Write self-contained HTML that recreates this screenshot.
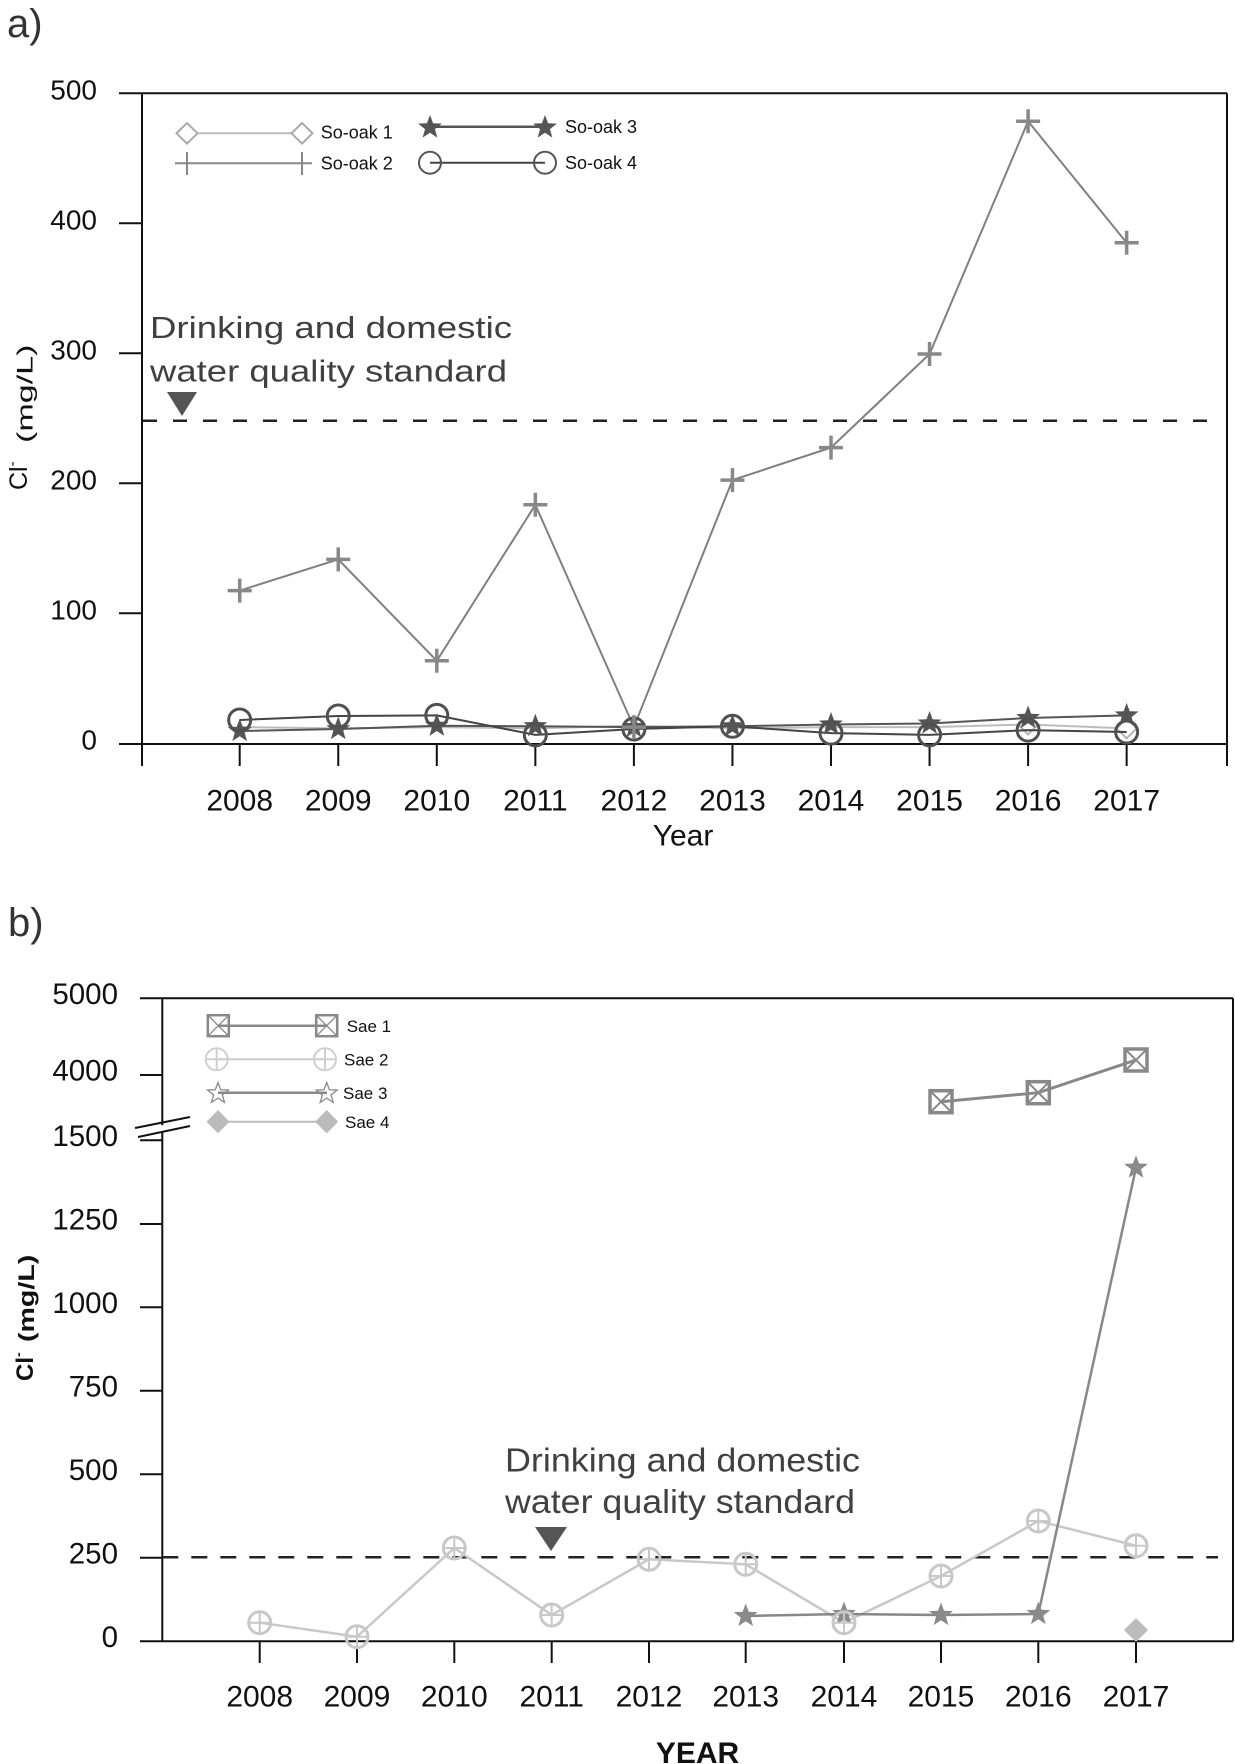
<!DOCTYPE html>
<html>
<head>
<meta charset="utf-8">
<style>
html,body{margin:0;padding:0;background:#fff;}
svg{display:block;}
text{font-family:"Liberation Sans",Arial,sans-serif;}
</style>
</head>
<body>
<svg width="1235" height="1764" viewBox="0 0 1235 1764" xmlns="http://www.w3.org/2000/svg">
<defs>
  <polygon id="star" points="0,-12.5 3.06,-4.21 11.89,-3.86 4.95,1.61 7.35,10.11 0,5.2 -7.35,10.11 -4.95,1.61 -11.89,-3.86 -3.06,-4.21"/>
  <polygon id="starS" points="0,-11 2.70,-3.72 10.46,-3.40 4.37,1.42 6.47,8.90 0,4.6 -6.47,8.90 -4.37,1.42 -10.46,-3.40 -2.70,-3.72"/>
  <path id="plus" d="M-12,0H12M0,-12V12" fill="none"/>
  <g id="cp" fill="none"><circle r="11"/><path d="M-11,0H11M0,-11V11" stroke-width="2"/></g>
  <g id="sx" fill="none"><rect x="-11" y="-11" width="22" height="22" stroke-width="3.5"/><path d="M-11,-11L11,11M11,-11L-11,11" stroke-width="2"/></g>
  <g id="sxl" fill="none"><rect x="-10.5" y="-10.5" width="21" height="21" stroke-width="2.5"/><path d="M-10.5,-10.5L10.5,10.5M10.5,-10.5L-10.5,10.5" stroke-width="1.3"/></g>
</defs>

<!-- ================= CHART A ================= -->
<text x="7" y="37" font-size="40" fill="#333">a)</text>

<g stroke="#111" stroke-width="2" fill="none">
  <path d="M119,93.3H1227M142,93.3V766M119,744H1227M1227,93.3V766"/>
  <path d="M119,223.3H142M119,353.3H142M119,483.3H142M119,613.3H142"/>
  <path d="M239.7,744V766M338.25,744V766M436.8,744V766M535.35,744V766M633.9,744V766M732.45,744V766M831,744V766M929.55,744V766M1028.1,744V766M1126.65,744V766"/>
</g>

<g font-size="28" fill="#111" text-anchor="end">
  <text x="97" y="99.5">500</text>
  <text x="97" y="229.5">400</text>
  <text x="97" y="359.5">300</text>
  <text x="97" y="489.5">200</text>
  <text x="97" y="619.5">100</text>
  <text x="97" y="749.5">0</text>
</g>
<g font-size="30" fill="#111" text-anchor="middle">
  <text x="239.7" y="810.5">2008</text>
  <text x="338.25" y="810.5">2009</text>
  <text x="436.8" y="810.5">2010</text>
  <text x="535.35" y="810.5">2011</text>
  <text x="633.9" y="810.5">2012</text>
  <text x="732.45" y="810.5">2013</text>
  <text x="831" y="810.5">2014</text>
  <text x="929.55" y="810.5">2015</text>
  <text x="1028.1" y="810.5">2016</text>
  <text x="1126.65" y="810.5">2017</text>
</g>
<text x="683" y="845.5" font-size="30" fill="#111" text-anchor="middle">Year</text>

<text transform="translate(27,490) rotate(-90)" font-size="25" fill="#111">Cl<tspan font-size="15" dy="-10">-</tspan></text>
<text transform="translate(32.5,443) rotate(-90) scale(1.55,1)" font-size="22" fill="#111">(mg/L)</text>

<path d="M143,420.7H1212" stroke="#222" stroke-width="2.5" stroke-dasharray="14,16" fill="none"/>
<polygon points="167,392 197,392 182,416" fill="#555"/>
<text x="150" y="338" font-size="31" fill="#404040" textLength="362" lengthAdjust="spacingAndGlyphs">Drinking and domestic</text>
<text x="150" y="381.7" font-size="31" fill="#404040" textLength="357" lengthAdjust="spacingAndGlyphs">water quality standard</text>

<!-- So-oak 1 -->
<polyline points="239.7,727.1 338.25,728.4 436.8,727.1 535.35,728.4 633.9,725.8 732.45,728.4 831,727.1 929.55,727.1 1028.1,724.5 1126.65,728.4" fill="none" stroke="#bdbdbd" stroke-width="2"/>
<g fill="#fff" stroke="#b5b5b5" stroke-width="2">
  <path d="M1028.1,714.5l10,10l-10,10l-10,-10z"/>
  <path d="M1126.65,718.4l10,10l-10,10l-10,-10z"/>
</g>

<!-- So-oak 2 -->
<polyline points="239.7,590.6 338.25,559.4 436.8,660.8 535.35,504.8 633.9,727.1 732.45,480.1 831,447.6 929.55,354 1028.1,121.3 1126.65,242.7" fill="none" stroke="#808080" stroke-width="2"/>

<!-- So-oak 3 -->
<polyline points="239.7,731 338.25,729.05 436.8,725.8 535.35,726.2 633.9,727.1 732.45,726.3 831,724.5 929.55,723.5 1028.1,718 1126.65,715.4" fill="none" stroke="#555" stroke-width="2"/>
<!-- So-oak 4 -->
<polyline points="239.7,720 338.25,716 436.8,715.4 535.35,734.9 633.9,729 732.45,726.3 831,733.1 929.55,734.9 1028.1,730.1 1126.65,732" fill="none" stroke="#444" stroke-width="2"/>

<g fill="#555">
  <use href="#star" x="239.7" y="731"/>
  <use href="#star" x="338.25" y="729.05"/>
  <use href="#star" x="436.8" y="725.8"/>
  <use href="#star" x="535.35" y="726.2"/>
  <use href="#star" x="633.9" y="727.1"/>
  <use href="#star" x="732.45" y="726.3"/>
  <use href="#star" x="831" y="724.5"/>
  <use href="#star" x="929.55" y="723.5"/>
  <use href="#star" x="1028.1" y="718"/>
  <use href="#star" x="1126.65" y="715.4"/>
</g>
<g fill="none" stroke="#505050" stroke-width="3">
  <circle cx="239.7" cy="720" r="11"/>
  <circle cx="338.25" cy="716" r="11"/>
  <circle cx="436.8" cy="715.4" r="11"/>
  <circle cx="535.35" cy="734.9" r="11"/>
  <circle cx="633.9" cy="729" r="11"/>
  <circle cx="732.45" cy="726.3" r="11"/>
  <circle cx="831" cy="733.1" r="11"/>
  <circle cx="929.55" cy="734.9" r="11"/>
  <circle cx="1028.1" cy="730.1" r="11"/>
  <circle cx="1126.65" cy="732" r="11"/>
</g>
<g stroke="#888" stroke-width="3.5">
  <use href="#plus" x="239.7" y="590.6"/>
  <use href="#plus" x="338.25" y="559.4"/>
  <use href="#plus" x="436.8" y="660.8"/>
  <use href="#plus" x="535.35" y="504.8"/>
  <use href="#plus" x="633.9" y="727.1"/>
  <use href="#plus" x="732.45" y="480.1"/>
  <use href="#plus" x="831" y="447.6"/>
  <use href="#plus" x="929.55" y="354"/>
  <use href="#plus" x="1028.1" y="121.3"/>
  <use href="#plus" x="1126.65" y="242.7"/>
</g>

<!-- legend a -->
<path d="M187,133.3H302" stroke="#bbb" stroke-width="2"/>
<g fill="#fff" stroke="#aaa" stroke-width="2">
  <path d="M187,123l10.5,10.3l-10.5,10.3l-10.5,-10.3z"/>
  <path d="M302,123l10.5,10.3l-10.5,10.3l-10.5,-10.3z"/>
</g>
<path d="M175,163.3H312M187,152V175M302,152V175" stroke="#888" stroke-width="2" fill="none"/>
<text x="320.7" y="138.3" font-size="18" fill="#111">So-oak 1</text>
<text x="320.7" y="169.3" font-size="18" fill="#111">So-oak 2</text>

<path d="M430,126.7H545" stroke="#555" stroke-width="2.5"/>
<g fill="#555">
  <use href="#star" x="430" y="127.5"/>
  <use href="#star" x="545" y="127.5"/>
</g>
<path d="M430,162.7H545" stroke="#444" stroke-width="2"/>
<g fill="none" stroke="#555" stroke-width="2">
  <circle cx="430" cy="162.7" r="11"/>
  <circle cx="545" cy="162.7" r="11"/>
</g>
<text x="565" y="133.2" font-size="18" fill="#111">So-oak 3</text>
<text x="565" y="169" font-size="18" fill="#111">So-oak 4</text>

<!-- ================= CHART B ================= -->
<text x="8" y="936" font-size="40" fill="#333">b)</text>

<g stroke="#111" stroke-width="2" fill="none">
  <path d="M140,998.3H1233M162.3,998.3V1641.3M140,1641.3H1233M1233,998.3V1641.3"/>
  <path d="M140,1075H162.3M140,1140.3H162.3M140,1224H162.3M140,1307.3H162.3M140,1390.8H162.3M140,1474.3H162.3M140,1557.8H162.3"/>
  <path d="M259.7,1641.3V1663M357,1641.3V1663M454.3,1641.3V1663M551.7,1641.3V1663M649,1641.3V1663M745.7,1641.3V1663M844,1641.3V1663M941,1641.3V1663M1038.3,1641.3V1663M1136,1641.3V1663"/>
</g>
<polygon points="150,1128 190,1119 190,1126 150,1135" fill="#fff"/>
<path d="M135,1128L190,1117M138,1137L190,1126" stroke="#111" stroke-width="2" fill="none"/>

<g font-size="29.5" fill="#111" text-anchor="end">
  <text x="118" y="1004">5000</text>
  <text x="118" y="1080.7">4000</text>
  <text x="118" y="1146">1500</text>
  <text x="118" y="1229.7">1250</text>
  <text x="118" y="1313">1000</text>
  <text x="118" y="1396.5">750</text>
  <text x="118" y="1480">500</text>
  <text x="118" y="1563.5">250</text>
  <text x="118" y="1647">0</text>
</g>
<g font-size="30" fill="#111" text-anchor="middle">
  <text x="259.7" y="1706.5">2008</text>
  <text x="357" y="1706.5">2009</text>
  <text x="454.3" y="1706.5">2010</text>
  <text x="551.7" y="1706.5">2011</text>
  <text x="649" y="1706.5">2012</text>
  <text x="745.7" y="1706.5">2013</text>
  <text x="844" y="1706.5">2014</text>
  <text x="941" y="1706.5">2015</text>
  <text x="1038.3" y="1706.5">2016</text>
  <text x="1136" y="1706.5">2017</text>
</g>
<text x="697.5" y="1763" font-size="30" font-weight="bold" fill="#111" text-anchor="middle">YEAR</text>

<text transform="translate(33,1381) rotate(-90)" font-size="24" font-weight="bold" fill="#111">Cl<tspan font-size="14" dy="-10">-</tspan></text>
<text transform="translate(34,1342) rotate(-90) scale(1.3,1)" font-size="22" font-weight="bold" fill="#111">(mg/L)</text>

<path d="M162.3,1557.3H1218" stroke="#222" stroke-width="2.5" stroke-dasharray="16,13" fill="none"/>
<polygon points="535,1527 567,1527 551,1551" fill="#555"/>
<text x="505" y="1471.7" font-size="33" fill="#404040" textLength="355" lengthAdjust="spacingAndGlyphs">Drinking and domestic</text>
<text x="505" y="1513" font-size="33" fill="#404040" textLength="350" lengthAdjust="spacingAndGlyphs">water quality standard</text>

<polyline points="259.7,1622.7 357,1636.7 454.3,1548 551.7,1615 649,1559.3 745.7,1564.3 844,1622.7 941,1576 1038.3,1521 1136,1545.7" fill="none" stroke="#c8c8c8" stroke-width="2.5"/>
<polyline points="745.7,1616 844,1614 941,1615 1038.3,1614 1136,1167.7" fill="none" stroke="#888" stroke-width="2.5"/>
<polyline points="941,1101.7 1038.3,1092.7 1136,1060" fill="none" stroke="#888" stroke-width="3"/>

<g fill="#8a8a8a">
  <use href="#star" x="745.7" y="1616"/>
  <use href="#star" x="844" y="1614"/>
  <use href="#star" x="941" y="1615"/>
  <use href="#star" x="1038.3" y="1614"/>
  <use href="#star" x="1136" y="1167.7"/>
</g>
<g stroke="#c8c8c8" stroke-width="3">
  <use href="#cp" x="259.7" y="1622.7"/>
  <use href="#cp" x="357" y="1636.7"/>
  <use href="#cp" x="454.3" y="1548"/>
  <use href="#cp" x="551.7" y="1615"/>
  <use href="#cp" x="649" y="1559.3"/>
  <use href="#cp" x="745.7" y="1564.3"/>
  <use href="#cp" x="844" y="1622.7"/>
  <use href="#cp" x="941" y="1576"/>
  <use href="#cp" x="1038.3" y="1521"/>
  <use href="#cp" x="1136" y="1545.7"/>
</g>
<g stroke="#888">
  <use href="#sx" x="941" y="1101.7"/>
  <use href="#sx" x="1038.3" y="1092.7"/>
  <use href="#sx" x="1136" y="1060"/>
</g>
<path d="M1136,1618l12,12l-12,12l-12,-12z" fill="#bbb"/>

<!-- legend b -->
<path d="M218,1025.7H327" stroke="#888" stroke-width="2.5"/>
<g stroke="#888">
  <use href="#sxl" x="218.3" y="1025.7"/>
  <use href="#sxl" x="326.7" y="1025.7"/>
</g>
<path d="M217,1059.3H325" stroke="#ccc" stroke-width="2"/>
<g stroke="#cfcfcf" stroke-width="2">
  <use href="#cp" x="216.7" y="1059.3"/>
  <use href="#cp" x="325" y="1059.3"/>
</g>
<path d="M218,1092.7H327" stroke="#888" stroke-width="2.5"/>
<g fill="none" stroke="#888" stroke-width="1.3">
  <use href="#starS" x="218" y="1093.5"/>
  <use href="#starS" x="326.7" y="1093.5"/>
</g>
<path d="M218,1121.7H327" stroke="#bbb" stroke-width="2"/>
<g fill="#bbb">
  <path d="M218,1110l11.5,11.7l-11.5,11.7l-11.5,-11.7z"/>
  <path d="M326.7,1110l11.5,11.7l-11.5,11.7l-11.5,-11.7z"/>
</g>
<g font-size="17" fill="#111">
  <text x="346.7" y="1031.8">Sae 1</text>
  <text x="344" y="1065.4">Sae 2</text>
  <text x="343" y="1098.8">Sae 3</text>
  <text x="345" y="1127.8">Sae 4</text>
</g>
</svg>
</body>
</html>
